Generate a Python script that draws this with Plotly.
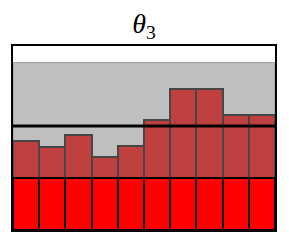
import numpy as np
import plotly.graph_objects as go

# Data (heights in units of the uniform prior density)
bins = list(range(10))
posterior = [1.71, 1.60, 1.82, 1.40, 1.61, 2.12, 2.71, 2.71, 2.21, 2.21]
prior = [1.0] * 10
band_top = 3.22
mean_level = 2.0
y_max = 3.54

x = [b + 0.5 for b in bins]

fig = go.Figure()
fig.add_trace(go.Bar(x=x, y=posterior, width=1,
                     marker=dict(color="rgb(192,64,64)",
                                 line=dict(color="rgb(70,70,70)", width=2))))
fig.add_trace(go.Bar(x=x, y=prior, width=1,
                     marker=dict(color="rgb(255,0,0)",
                                 line=dict(color="rgb(0,0,0)", width=2))))

fig.add_shape(type="rect", xref="x", yref="y", x0=0, x1=len(bins), y0=0, y1=band_top,
              fillcolor="rgb(191,191,191)", line=dict(color="rgb(150,150,150)", width=1),
              layer="below")
fig.add_shape(type="line", xref="x", yref="y", x0=0, x1=len(bins), y0=mean_level, y1=mean_level,
              line=dict(color="black", width=3))

# page body has an 8px margin, so the figure is placed at (8, 8)
W, H = 281, 236
fig.update_layout(
    width=W, height=H,
    margin=dict(l=5, r=14, t=38, b=14),
    paper_bgcolor="white", plot_bgcolor="white",
    barmode="overlay", bargap=0, showlegend=False,
    title=dict(text="<i>θ</i><sub>3</sub>", x=(144 - 8) / W, xanchor="center",
               y=1 - 15 / H, yanchor="middle",
               font=dict(family="Liberation Serif", size=28, color="black")),
)
fig.update_xaxes(range=[0, len(bins)], showticklabels=False, showgrid=False, zeroline=False,
                 showline=True, mirror=True, linecolor="black", linewidth=2, ticks="")
fig.update_yaxes(range=[0, y_max], showticklabels=False, showgrid=False, zeroline=False,
                 showline=True, mirror=True, linecolor="black", linewidth=2, ticks="")

fig.write_html("out.html")
